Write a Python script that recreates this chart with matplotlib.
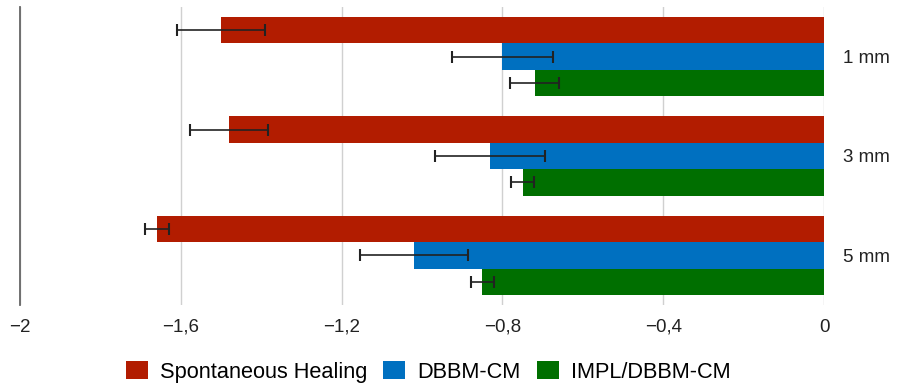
import matplotlib
matplotlib.use("Agg")
import matplotlib.pyplot as plt
import numpy as np

plt.rcParams['font.family'] = ['Liberation Sans', 'DejaVu Sans']

categories = ["1 mm", "3 mm", "5 mm"]
series = ["Spontaneous Healing", "DBBM-CM", "IMPL/DBBM-CM"]
spontaneous = [-1.50, -1.48, -1.66]
dbbm = [-0.80, -0.83, -1.02]
impl = [-0.72, -0.75, -0.85]
spontaneous_err = [0.11, 0.096, 0.03]
dbbm_err = [0.125, 0.137, 0.134]
impl_err = [0.062, 0.028, 0.028]
xticks = [-2, -1.6, -1.2, -0.8, -0.4, 0]
xtick_labels = ["\u22122", "\u22121,6", "\u22121,2", "\u22120,8", "\u22120,4", "0"]

colors = ["#B21C00", "#0070C0", "#006F00"]

W, H = 898, 387
fig = plt.figure(figsize=(W / 100, H / 100), dpi=100)
ax = fig.add_axes([20 / W, 1 - 305 / H, (824 - 20) / W, (305 - 7) / H])

y = np.arange(len(categories))
h = 0.8 / 3
vals = [spontaneous, dbbm, impl]
errs = [spontaneous_err, dbbm_err, impl_err]
for i, (v, e, c, name) in enumerate(zip(vals, errs, colors, series)):
    ax.barh(y + (i - 1) * h, v, height=h, color=c, label=name, zorder=2)
    ax.errorbar(v, y + (i - 1) * h, xerr=e, fmt='none', ecolor='#222222',
                elinewidth=1.2, capsize=4, capthick=1.5, zorder=3)

ax.set_xlim(-2, 0)
ax.set_ylim(len(categories) - 0.5, -0.5)
ax.set_xticks(xticks)
ax.set_xticklabels(xtick_labels, fontsize=13.5, color='#222222')
ax.set_yticks(y)
ax.set_yticklabels(categories, fontsize=13.5, color='#222222')
ax.yaxis.tick_right()
ax.tick_params(axis='y', length=0, pad=14)
ax.tick_params(axis='x', length=0, pad=10)
ax.grid(axis='x', color='#d0d0d0', linewidth=1.0, zorder=0)
ax.set_axisbelow(True)
for s in ['top', 'right', 'bottom']:
    ax.spines[s].set_visible(False)
ax.spines['left'].set_color('#666666')
ax.spines['left'].set_linewidth(1.3)

handles, labels = ax.get_legend_handles_labels()
fig.legend(handles, labels, loc='center', bbox_to_anchor=(428 / W, 1 - 372 / H),
           ncol=3, frameon=False, fontsize=15.7, handlelength=1.0, handleheight=0.9,
           handletextpad=0.55, columnspacing=0.75, borderpad=0)

fig.savefig("out.png", dpi=100)
